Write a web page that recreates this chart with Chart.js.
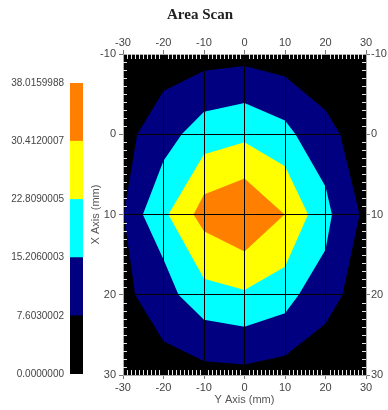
<!doctype html>
<html>
<head>
<meta charset="UTF-8">
<title>Area Scan</title>
<script src="https://cdn.jsdelivr.net/npm/chart.js@4.4.1/dist/chart.umd.min.js"></script>
<style>
	html, body { margin: 0; padding: 0; background: #fff; }
	#holder { position: relative; width: 388px; height: 410px; }
	#holder canvas { position: absolute; left: 0; top: 0; }
</style>
</head>
<body>
<div id="holder">
	<canvas id="scan" width="388" height="410"></canvas>
	<canvas id="bar" width="110" height="410"></canvas>
</div>
<script>
	// contour levels shown on the colour bar
	var levels = [0.0000000, 7.6030002, 15.2060003, 22.8090005, 30.4120007, 38.0159988];
	var bandColors = ['#000000', '#000080', '#00ffff', '#ffff00', '#ff8000'];

	// plot ranges in mm
	var yAxisRange = [-30, 30];  // horizontal ("Y Axis")
	var xAxisRange = [-10, 30];  // vertical ("X Axis"), reversed

	// outline of each band, [Y, X] in mm
	var navyArea = [[0, -8.5], [10, -7.2], [20, -3], [23.6, 0], [28.4, 10], [24.2, 20], [20, 23.6], [10, 27.6],
		[0, 28.7], [-10, 28.3], [-20, 25.8], [-27, 20], [-29.8, 10], [-26.5, 0], [-20, -5.4], [-10, -7.9]];
	var cyanArea = [[0, -3.9], [10, -1.7], [12.6, 0], [20, 6.5], [21.6, 10], [20, 14.4], [13.4, 20], [10, 22.3],
		[0, 24], [-10, 23.1], [-16.3, 20], [-20, 15.6], [-25.1, 10], [-20, 3.3], [-15.5, 0], [-10, -2.8]];
	var yellowArea = [[0, 1], [10, 4], [15.7, 10], [10, 16.5], [0, 19.4], [-10, 18], [-18.8, 10], [-10, 2.5]];
	var orangeArea = [[0, 5.5], [9.9, 10], [0, 14.6], [-10, 12.1], [-12.6, 10], [-10, 7.5]];

	// first dataset is drawn on top
	var areas = [orangeArea, yellowArea, cyanArea, navyArea];
	var areaColors = [bandColors[4], bandColors[3], bandColors[2], bandColors[1]];

	var tickFont = {family: 'Liberation Sans', size: 11};
	var tickColor = '#444';
	var edgeColor = '#aaa';

	function toPoints(a) {
		return a.map(function (p) { return {x: p[0], y: p[1]}; });
	}

	// black grid lines inside the plot, none on the edges
	function innerGrid(c) {
		var v = c.tick ? c.tick.value : null;
		return (v !== null && v > c.scale.min && v < c.scale.max) ? '#000' : 'rgba(0,0,0,0)';
	}

	var plotBackground = {
		id: 'plotBackground',
		beforeDraw: function (chart) {
			var a = chart.chartArea, ctx = chart.ctx;
			ctx.save();
			ctx.fillStyle = '#000';
			ctx.fillRect(a.left, a.top, a.right - a.left, a.bottom - a.top);
			ctx.restore();
		}
	};

	// small white ticks every 1 mm inside the frame
	var minorTicks = {
		id: 'minorTicks',
		afterDraw: function (chart) {
			var a = chart.chartArea, ctx = chart.ctx;
			var sx = chart.scales.x, sy = chart.scales.y;
			var v, p;
			ctx.save();
			ctx.strokeStyle = '#e6e6e6';
			ctx.lineWidth = 1;
			ctx.beginPath();
			for (v = yAxisRange[0] + 1; v < yAxisRange[1]; v++) {
				if (v % 10 === 0) continue;
				p = Math.round(sx.getPixelForValue(v)) + 0.5;
				ctx.moveTo(p, a.top); ctx.lineTo(p, a.top + 5);
				ctx.moveTo(p, a.bottom - 5); ctx.lineTo(p, a.bottom);
			}
			for (v = xAxisRange[0] + 1; v < xAxisRange[1]; v++) {
				if (v % 10 === 0) continue;
				p = Math.round(sy.getPixelForValue(v)) + 0.5;
				ctx.moveTo(a.left, p); ctx.lineTo(a.left + 4, p);
				ctx.moveTo(a.right - 4, p); ctx.lineTo(a.right, p);
			}
			ctx.stroke();
			ctx.restore();
		}
	};

	new Chart(document.getElementById('scan'), {
		type: 'scatter',
		data: {
			datasets: areas.map(function (a, i) {
				return {
					data: toPoints(a),
					showLine: true,
					fill: 'shape',
					backgroundColor: areaColors[i],
					borderColor: 'rgba(0,0,0,0)',
					borderWidth: 0,
					pointRadius: 0,
					tension: 0
				};
			})
		},
		plugins: [plotBackground, minorTicks],
		options: {
			responsive: false,
			animation: false,
			events: [],
			layout: {padding: {left: 12, right: 0, top: 0, bottom: 0}},
			plugins: {
				legend: {display: false},
				tooltip: {enabled: false},
				title: {
					display: true,
					text: 'Area Scan',
					color: '#222',
					font: {family: 'Liberation Serif', size: 15, weight: 'bold'},
					padding: {top: 6, bottom: 4}
				}
			},
			scales: {
				x: {
					type: 'linear', position: 'bottom',
					min: yAxisRange[0], max: yAxisRange[1],
					ticks: {stepSize: 10, color: tickColor, font: tickFont, padding: 2, maxRotation: 0, autoSkip: false},
					grid: {z: 1, color: innerGrid, tickColor: '#777', tickLength: 4, lineWidth: 1},
					border: {z: 1, color: edgeColor},
					title: {display: true, text: 'Y Axis (mm)', color: '#555', font: tickFont, padding: {top: 0, bottom: 3}},
					afterFit: function (s) { s.height = 35; }
				},
				x2: {
					type: 'linear', position: 'top',
					min: yAxisRange[0], max: yAxisRange[1],
					ticks: {stepSize: 10, color: tickColor, font: tickFont, padding: 0, maxRotation: 0, autoSkip: false},
					grid: {drawOnChartArea: false, tickColor: '#777', tickLength: 4},
					border: {z: 1, color: edgeColor},
					afterFit: function (s) { s.height = 26; }
				},
				y: {
					type: 'linear', position: 'left', reverse: true,
					min: xAxisRange[0], max: xAxisRange[1],
					ticks: {stepSize: 10, color: tickColor, font: tickFont, padding: 3, autoSkip: false},
					grid: {z: 1, color: innerGrid, tickColor: '#777', tickLength: 4, lineWidth: 1},
					border: {z: 1, color: edgeColor},
					title: {display: true, text: 'X Axis (mm)', color: '#555', font: tickFont, padding: {top: 77, bottom: 0}},
					afterFit: function (s) { s.width = 111; }
				},
				y2: {
					type: 'linear', position: 'right', reverse: true,
					min: xAxisRange[0], max: xAxisRange[1],
					ticks: {stepSize: 10, color: tickColor, font: tickFont, padding: 1, autoSkip: false},
					grid: {drawOnChartArea: false, tickColor: '#777', tickLength: 4},
					border: {z: 1, color: edgeColor},
					afterFit: function (s) { s.width = 22; }
				}
			}
		}
	});

	// colour bar: one stacked bar, a segment per band
	new Chart(document.getElementById('bar'), {
		type: 'bar',
		data: {
			labels: [''],
			datasets: bandColors.map(function (c, i) {
				return {
					data: [levels[i + 1] - levels[i]],
					backgroundColor: c,
					borderWidth: 0,
					categoryPercentage: 1,
					barPercentage: 1
				};
			})
		},
		options: {
			responsive: false,
			animation: false,
			events: [],
			layout: {padding: {top: 83, bottom: 36, left: 0, right: 27}},
			plugins: {legend: {display: false}, tooltip: {enabled: false}},
			scales: {
				x: {display: false, stacked: true},
				y: {
					stacked: true,
					min: levels[0], max: levels[levels.length - 1],
					afterBuildTicks: function (s) {
						s.ticks = levels.map(function (v) { return {value: v}; });
					},
					afterFit: function (s) { s.width = 70; },
					ticks: {
						callback: function (v) { return v.toFixed(7); },
						padding: 6, color: tickColor, autoSkip: false,
						font: {family: 'Liberation Sans', size: 10}
					},
					grid: {display: false, drawTicks: false},
					border: {display: false}
				}
			}
		}
	});
</script>
</body>
</html>
